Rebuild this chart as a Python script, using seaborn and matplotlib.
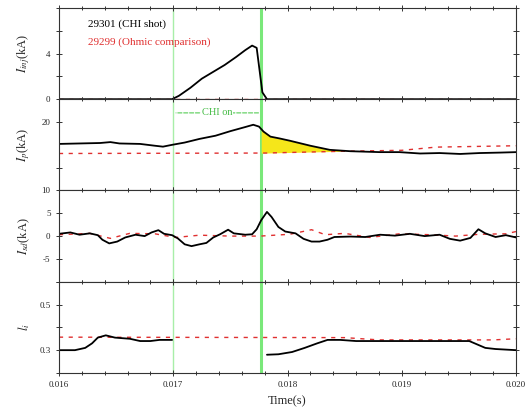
import numpy as np
import pandas as pd
import matplotlib
matplotlib.use("Agg")
import matplotlib.pyplot as plt
import seaborn as sns

# ---------------- data ----------------
# Panel 1: injector current I_inj (kA)
iinj_t = [0.0160, 0.01699, 0.01705, 0.01715, 0.01725, 0.01735, 0.01745, 0.01755,
          0.01763, 0.01769, 0.01773, 0.01778, 0.01782, 0.0190, 0.0200]
iinj_v = [0.0, 0.0, 0.3, 1.0, 1.8, 2.4, 3.0, 3.7, 4.3, 4.7, 4.5, 0.6, 0.0, 0.0, 0.0]
iinj_ref_t = [0.0160, 0.0200]
iinj_ref_v = [0.0, 0.0]

# Panel 2: plasma current I_p (kA)
ip_t = [0.01600, 0.01618, 0.01636, 0.01645, 0.01653, 0.01671, 0.01684, 0.01691,
        0.01699, 0.01710, 0.01723, 0.01737, 0.01750, 0.01763, 0.01770, 0.01775,
        0.01779, 0.01785, 0.01793, 0.01802, 0.01820, 0.01837, 0.01855, 0.01881,
        0.01898, 0.01916, 0.01933, 0.01951, 0.01968, 0.01986, 0.02000]
ip_v = [15.2, 15.3, 15.4, 15.6, 15.3, 15.2, 14.8, 14.6,
        15.0, 15.5, 16.3, 17.0, 18.0, 18.9, 19.4, 19.0,
        17.9, 16.8, 16.4, 15.9, 14.8, 13.9, 13.6, 13.4,
        13.4, 13.1, 13.2, 13.0, 13.2, 13.3, 13.4]
ip_ref_t = [0.0160, 0.0178, 0.0185, 0.0190, 0.0193, 0.0200]
ip_ref_v = [13.1, 13.2, 13.6, 13.8, 14.5, 14.8]

# Panel 3: I_sd (kA)
isd_t = [0.01600, 0.01610, 0.01618, 0.01627, 0.01634, 0.01638, 0.01644, 0.01651,
         0.01658, 0.01667, 0.01675, 0.01681, 0.01687, 0.01692, 0.01699, 0.01704,
         0.01710, 0.01716, 0.01723, 0.01729, 0.01735, 0.01741, 0.01748, 0.01753,
         0.01763, 0.01769, 0.01773, 0.01777, 0.01782, 0.01786, 0.01792, 0.01798,
         0.01807, 0.01814, 0.01821, 0.01828, 0.01835, 0.01841, 0.01855, 0.01868,
         0.01881, 0.01894, 0.01907, 0.01920, 0.01933, 0.01942, 0.01951, 0.01960,
         0.01967, 0.01973, 0.01982, 0.01991, 0.02000]
isd_v = [0.5, 0.8, 0.3, 0.6, 0.2, -0.8, -1.6, -1.2,
         -0.3, 0.3, 0.0, 0.8, 1.3, 0.5, 0.2, -0.5,
         -1.8, -2.2, -1.8, -1.5, -0.3, 0.4, 1.4, 0.6,
         0.3, 0.4, 1.5, 3.5, 5.3, 4.2, 2.0, 1.0,
         0.6, -0.6, -1.2, -1.2, -0.8, -0.2, -0.1, -0.2,
         0.3, 0.1, 0.5, 0.0, 0.3, -0.6, -1.0, -0.4,
         1.5, 0.6, -0.2, 0.2, -0.3]
isd_ref_t = [0.01600, 0.01627, 0.01645, 0.01662, 0.01684, 0.01702, 0.01723, 0.01750,
             0.01776, 0.01802, 0.01821, 0.01833, 0.01850, 0.01872, 0.01898, 0.01925,
             0.01947, 0.01968, 0.01991, 0.02000]
isd_ref_v = [0.3, 0.6, -0.5, 0.6, 0.5, -0.3, 0.2, 0.0,
             0.0, 0.4, 1.4, 0.3, 0.6, -0.3, 0.5, 0.3,
             0.0, 0.4, 0.5, 1.0]

# Panel 4: internal inductance l_i (no data during CHI)
li_t1 = [0.01600, 0.01614, 0.01623, 0.01629, 0.01634, 0.01641, 0.01649, 0.01662,
         0.01671, 0.01680, 0.01688, 0.01699]
li_v1 = [0.300, 0.300, 0.310, 0.330, 0.355, 0.365, 0.355, 0.350,
         0.340, 0.340, 0.345, 0.345]
li_t2 = [0.01782, 0.01792, 0.01804, 0.01815, 0.01826, 0.01835, 0.01846, 0.01860,
         0.01877, 0.01895, 0.01912, 0.01930, 0.01947, 0.01959, 0.01966, 0.01973,
         0.01982, 0.02000]
li_v2 = [0.280, 0.282, 0.292, 0.310, 0.330, 0.345, 0.345, 0.340,
         0.340, 0.340, 0.340, 0.340, 0.340, 0.340, 0.325, 0.310,
         0.305, 0.300]
li_ref_t = [0.0160, 0.0185, 0.0188, 0.0198, 0.0200]
li_ref_v = [0.357, 0.355, 0.345, 0.345, 0.350]

chi_start = 0.01700
chi_end = 0.01777

legend_shot = "29301 (CHI shot)"
legend_ref = "29299 (Ohmic comparison)"
ylabels = ["$I_{inj}$(kA)", "$I_p$(kA)", "$I_{sd}$(kA)", "$l_i$"]
xticks = [0.016, 0.017, 0.018, 0.019, 0.020]
xticklabels = ["0.016", "0.017", "0.018", "0.019", "0.020"]

# ---------------- style ----------------
sns.set_style("ticks")
plt.rcParams["font.family"] = ["Liberation Serif", "DejaVu Serif"]
plt.rcParams["mathtext.fontset"] = "stix"

fig, axes = plt.subplots(4, 1, sharex=True, figsize=(5.31, 4.18), dpi=100)
fig.subplots_adjust(left=0.111, right=0.972, top=0.981, bottom=0.1077, hspace=0)

black_kw = dict(color="black", linewidth=1.3, estimator=None, sort=False)
red_kw = dict(color="#e03030", linewidth=1.0, linestyle=(0, (3, 4)), estimator=None, sort=False)

# Panel 1
ax = axes[0]
sns.lineplot(x=iinj_ref_t, y=iinj_ref_v, ax=ax, **red_kw)
sns.lineplot(x=iinj_t, y=iinj_v, ax=ax, **black_kw)
ax.set_ylim(0, 8)
ax.set_yticks([0, 2, 4, 6, 8])
ax.set_yticklabels(["0", "", "4", "", ""])
ax.text(0.063, 0.82, legend_shot, transform=ax.transAxes, fontsize=8, color="black", va="center")
ax.text(0.063, 0.62, legend_ref, transform=ax.transAxes, fontsize=8, color="#e03030", va="center")

# Panel 2
ax = axes[1]
fine_t = np.linspace(chi_end, 0.01850, 60)
blk = np.interp(fine_t, ip_t, ip_v)
red = np.interp(fine_t, ip_ref_t, ip_ref_v)
ax.fill_between(fine_t, red, blk, where=blk >= red, color="#f5e61a", linewidth=0, zorder=1)
sns.lineplot(x=ip_ref_t, y=ip_ref_v, ax=ax, **red_kw)
sns.lineplot(x=ip_t, y=ip_v, ax=ax, **black_kw)
ax.set_ylim(5, 25)
ax.set_yticks([10, 20])
ax.set_yticklabels(["", "20"])
ax.annotate("", xy=(chi_start, 22.0), xytext=(chi_end, 22.0),
            arrowprops=dict(arrowstyle="-", linestyle="--", color="#55cc55", lw=0.8))
ax.text((chi_start + chi_end) / 2, 22.0, "CHI on", color="#44bb44", fontsize=7.5,
        ha="center", va="center", bbox=dict(facecolor="white", edgecolor="none", pad=0.5))

# Panel 3
ax = axes[2]
sns.lineplot(x=isd_ref_t, y=isd_ref_v, ax=ax, **red_kw)
sns.lineplot(x=isd_t, y=isd_v, ax=ax, **black_kw)
ax.set_ylim(-10, 10)
ax.set_yticks([-10, -5, 0, 5, 10])
ax.set_yticklabels(["", "-5", "0", "5", "10"])

# Panel 4
ax = axes[3]
sns.lineplot(x=li_ref_t, y=li_ref_v, ax=ax, **red_kw)
sns.lineplot(x=li_t1, y=li_v1, ax=ax, **black_kw)
sns.lineplot(x=li_t2, y=li_v2, ax=ax, **black_kw)
ax.set_ylim(0.2, 0.6)
ax.set_yticks([0.2, 0.3, 0.4, 0.5, 0.6])
ax.set_yticklabels(["", "0.3", "", "0.5", ""])

for i, ax in enumerate(axes):
    ax.axvline(chi_start, color="#a8eea8", linewidth=1.0, zorder=0)
    ax.axvline(chi_end, color="#7ae87a", linewidth=2.2, zorder=0)
    ax.set_ylabel(ylabels[i], fontsize=9, labelpad=4)
    ax.yaxis.set_label_coords(-0.06, 0.5)
    ax.set_xlim(0.016, 0.020)
    ax.set_xticks(xticks)
    ax.set_xticks(np.arange(0.016, 0.02001, 0.0002), minor=True)
    ax.tick_params(which="both", direction="inout", top=True, right=True,
                   labelsize=6.5, width=0.7, color="#333333")
    ax.tick_params(which="major", length=5)
    ax.tick_params(which="minor", length=3)
    for s in ax.spines.values():
        s.set_linewidth(0.8)
        s.set_color("#333333")
    ax.set_xlabel("")

axes[-1].set_xticklabels(xticklabels)
axes[-1].set_xlabel("Time(s)", fontsize=9)

fig.savefig("out.png", dpi=100)
